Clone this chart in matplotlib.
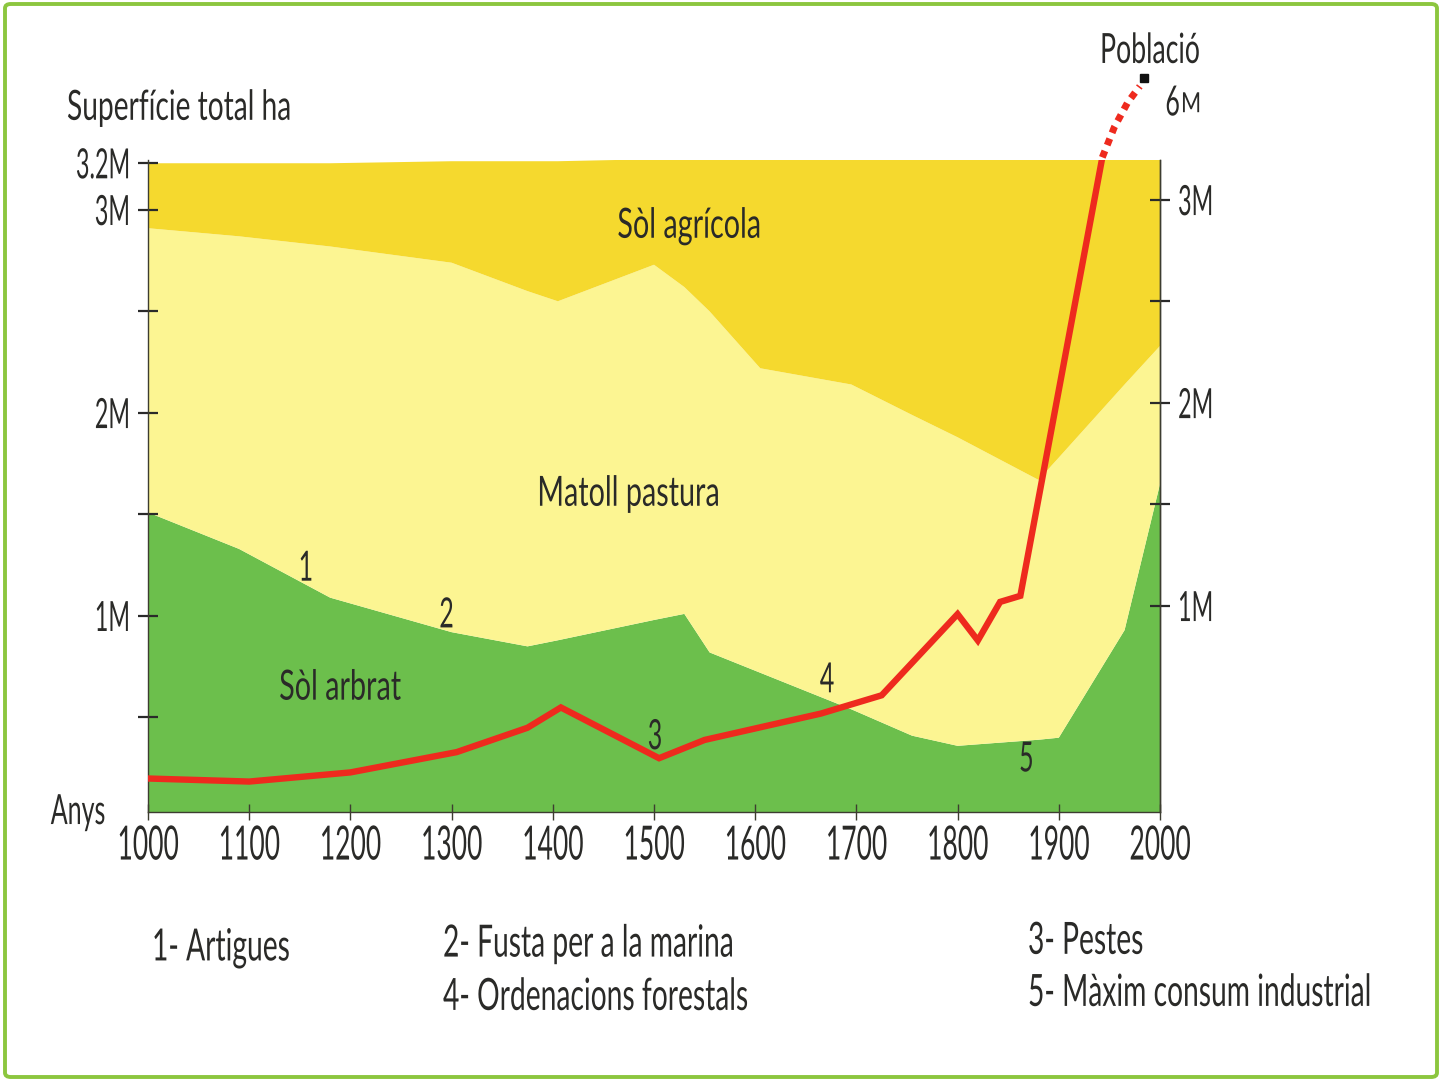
import numpy as np
import matplotlib
matplotlib.use("Agg")
import matplotlib.pyplot as plt
from matplotlib.patches import FancyBboxPatch
from matplotlib.patheffects import AbstractPathEffect
from matplotlib.transforms import Affine2D

# ---- data (millions of ha / millions of inhabitants) ----
years = [1000, 1090, 1180, 1300, 1375, 1405, 1500, 1530, 1555, 1605,
         1695, 1755, 1800, 1880, 1900, 1965, 2000]
sol_arbrat = [1.51, 1.33, 1.09, 0.92, 0.85, 0.88, 0.98, 1.01, 0.82, 0.72,
              0.54, 0.41, 0.36, 0.39, 0.40, 0.93, 1.65]
matoll_pastura = [1.40, 1.54, 1.73, 1.82, 1.75, 1.67, 1.75, 1.61, 1.68, 1.50,
                  1.60, 1.58, 1.52, 1.28, 1.38, 1.21, 0.68]
sol_agricola = [0.32, 0.36, 0.41, 0.50, 0.64, 0.69, 0.52, 0.63, 0.75, 1.03,
                1.11, 1.26, 1.37, 1.59, 1.48, 1.12, 0.93]

pop_years = [1000, 1100, 1200, 1305, 1375, 1408, 1505, 1550, 1665, 1725,
             1800, 1820, 1842, 1862, 1943]
poblacio = [0.15, 0.135, 0.18, 0.28, 0.40, 0.50, 0.25, 0.34, 0.47, 0.56,
            0.96, 0.83, 1.02, 1.05, 3.21]
# off-scale continuation (dotted) up to the 6M mark
pop_ext_years = [1943, 1955, 1968, 1980]
pop_ext = [3.21, 3.36, 3.48, 3.56]
pop_end = (1984, 3.60)

xticks = [1000, 1100, 1200, 1300, 1400, 1500, 1600, 1700, 1800, 1900, 2000]
left_ticks = [0.5, 1, 1.5, 2, 2.5, 3, 3.23]
left_labels = ["", "1M", "", "2M", "", "3M", "3.2M"]
right_ticks = [1, 1.5, 2, 2.5, 3]
right_labels = ["1M", "", "2M", "", "3M"]

notes = [(1, 1156, 1.24), (2, 1295, 1.01), (3, 1501, 0.41), (4, 1671, 0.69), (5, 1868, 0.30)]
legend_items = ["1- Artigues", "2- Fusta per a la marina", "4- Ordenacions forestals",
                "3- Pestes", "5- Màxim consum industrial"]

INK = "#2a2a28"
C_GREEN = "#6cbf4c"
C_LIGHT = "#fcf592"
C_DARK = "#f5d92e"
C_RED = "#ee2a1e"

plt.rcParams["font.family"] = ["Lato", "DejaVu Sans"]


class Tall(AbstractPathEffect):
    """Stretch glyphs vertically so a small font reads like a condensed one."""
    def __init__(self, sy, anchor="center"):
        super().__init__()
        self.sy = sy
        self.anchor = anchor

    def draw_path(self, renderer, gc, tpath, affine, rgbFace=None):
        ext = tpath.get_extents()
        y0 = ext.y1 if self.anchor == "top" else 0.5 * (ext.y0 + ext.y1)
        tr = Affine2D().translate(0, -y0).scale(1, self.sy).translate(0, y0) + affine
        renderer.draw_path(gc, tpath, tr, rgbFace)


def ctext(px, py, s, size, sx, ha="center", **kw):
    # size = apparent height (pt), sx = width squeeze
    return fig.text(px / 1441, 1 - py / 1081, s, ha=ha, va="center", fontsize=size * sx,
                    color=INK, path_effects=[Tall(1 / sx)], **kw)


fig = plt.figure(figsize=(14.41, 10.81), dpi=100)
ax = fig.add_axes([148 / 1441, 1 - 812 / 1081, 1012 / 1441, 652 / 1081])

ax.stackplot(years, sol_arbrat, matoll_pastura, sol_agricola,
             colors=[C_GREEN, C_LIGHT, C_DARK], linewidth=0)
ax.set_xlim(1000, 2000)
ax.set_ylim(0.034, 3.246)

ax.spines["top"].set_visible(False)
for s in ["left", "bottom", "right"]:
    ax.spines[s].set_color("#3d3d30")
    ax.spines[s].set_linewidth(1.0)

ax.set_xticks(xticks)
ax.set_xticklabels([str(x) for x in xticks])
ax.tick_params(axis="x", direction="inout", length=12, width=1.0, color="#3d3d30",
               pad=3, labelsize=34 * 0.56, labelcolor=INK)
for lab in ax.get_xticklabels():
    lab.set_path_effects([Tall(1 / 0.56, "top")])
ax.set_yticks(left_ticks)
ax.set_yticklabels(left_labels)
ax.tick_params(axis="y", direction="inout", length=14, width=1.6, color="#2a2a2a",
               pad=6, labelsize=30 * 0.56, labelcolor=INK)
for lab in ax.get_yticklabels():
    lab.set_path_effects([Tall(1 / 0.56)])

# population on right axis
ax2 = ax.twinx()
ax2.set_ylim(-0.015, 3.197)
ax2.set_xlim(1000, 2000)
for s in ["top", "left", "bottom"]:
    ax2.spines[s].set_visible(False)
ax2.spines["right"].set_color("#3d3d30")
ax2.spines["right"].set_linewidth(1.0)
ax2.plot(pop_years, poblacio, color=C_RED, lw=4.6, solid_joinstyle="miter", zorder=5)
ax2.plot(pop_ext_years, pop_ext, color=C_RED, lw=5, linestyle=(0, (1, 0.9)),
         clip_on=False, zorder=5)
ax2.plot([pop_end[0]], [pop_end[1]], marker="s", ms=6, color="#111111",
         clip_on=False, zorder=6)
ax2.set_yticks(right_ticks)
ax2.set_yticklabels(right_labels)
ax2.tick_params(axis="y", direction="inout", length=14, width=1.6, color="#2a2a2a",
                pad=6, labelsize=30 * 0.56, labelcolor=INK)
for lab in ax2.get_yticklabels():
    lab.set_path_effects([Tall(1 / 0.56)])

# area labels and event numbers (data coords)
for s, x, y in [("Sòl agrícola", 1535, 2.92), ("Matoll pastura", 1475, 1.60),
                ("Sòl arbrat", 1190, 0.65)]:
    ax.text(x, y, s, ha="center", va="center", fontsize=30 * 0.69, color=INK,
            path_effects=[Tall(1 / 0.69)])
for n, x, y in notes:
    ax.text(x, y, str(n), ha="center", va="center", fontsize=30 * 0.6, color=INK,
            zorder=7, path_effects=[Tall(1 / 0.6)])

# axis titles
ctext(67, 108, "Superfície total ha", 30, 0.675, ha="left")
ctext(78, 812, "Anys", 30, 0.6)
ctext(1150, 50, "Població", 30, 0.64)
ctext(1180, 102, "6", 30, 0.6, ha="right")
ctext(1181, 104, "M", 20, 0.78, ha="left")

# legend notes below the chart
pos = [(152, 948), (443, 944), (443, 996), (1028, 940), (1028, 992)]
for txt, (px, py) in zip(legend_items, pos):
    ctext(px, py, txt, 32, 0.635, ha="left")

# green frame
frame = FancyBboxPatch((5 / 1441, 4 / 1081), 1432 / 1441, 1073 / 1081,
                       boxstyle="round,pad=0,rounding_size=0.004",
                       transform=fig.transFigure, fill=False, ec="#8cc63f", lw=2.8)
fig.patches.append(frame)

fig.savefig("out.png", dpi=100)
